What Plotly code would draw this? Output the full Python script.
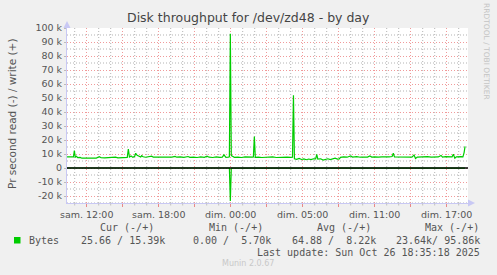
import plotly.graph_objects as go

# ---------------- data ----------------
# time in hours since Saturday 00:00 (uniform clock; DST shift handled in tick text)
write_hours = [10.36, 10.5, 10.65, 10.8, 10.9, 10.97, 11.05, 11.15, 11.25, 11.45, 11.6, 11.9, 12.2, 12.5, 12.8,
               13.05, 13.2, 13.5, 13.8, 14.1, 14.4, 14.6, 14.9, 15.2, 15.38, 15.47, 15.56, 15.7, 15.85, 16.0,
               16.08, 16.2, 16.35, 16.5, 16.58, 16.7, 16.9, 17.2, 17.42, 17.55, 17.9, 18.2, 18.5, 18.8, 19.1,
               19.36, 19.5, 19.8, 20.1, 20.44, 20.6, 20.9, 21.2, 21.5, 21.8, 22.03, 22.2, 22.5, 22.8, 23.1,
               23.3, 23.44, 23.6, 23.8, 23.89, 23.97, 24.05, 24.15, 24.3, 24.6, 24.9, 25.2, 25.5, 25.8, 25.89,
               25.97, 26.05, 26.3, 26.6, 26.9, 27.2, 27.5, 27.8, 28.1, 28.4, 28.7, 29.0, 29.15, 29.23, 29.31,
               29.5, 29.7, 29.9, 30.1, 30.3, 30.5, 30.7, 30.9, 31.08, 31.17, 31.26, 31.5, 31.7, 31.9, 32.1,
               32.3, 32.5, 32.7, 32.9, 33.05, 33.15, 33.4, 33.7, 34.0, 34.15, 34.5, 34.8, 35.1, 35.4, 35.6,
               35.75, 36.0, 36.3, 36.6, 36.9, 37.2, 37.45, 37.55, 37.65, 37.9, 38.2, 38.5, 38.8, 39.1, 39.28,
               39.4, 39.55, 39.8, 40.1, 40.4, 40.7, 41.0, 41.3, 41.53, 41.65, 41.9, 42.2, 42.45, 42.55, 42.68,
               42.8, 43.0, 43.2, 43.35, 43.45, 43.53]
write_k = [7.9, 8.0, 7.8, 8.1, 7.9, 12.4, 7.8, 8.3, 7.4, 7.6, 7.0, 7.1, 7.0, 7.2, 7.1,
           8.1, 7.3, 7.2, 7.5, 7.3, 7.8, 7.2, 7.4, 7.5, 7.6, 13.6, 7.8, 8.6, 7.6, 8.4,
           10.5, 9.0, 8.2, 7.8, 8.8, 8.0, 7.7, 7.9, 8.4, 7.7, 7.8, 7.6, 7.9, 7.6, 7.8,
           8.3, 7.7, 7.9, 7.6, 8.2, 7.6, 7.8, 7.5, 7.9, 7.6, 8.4, 7.7, 7.5, 7.9, 7.6,
           7.8, 9.4, 7.6, 7.8, 8.0, 95.86, 8.9, 8.4, 7.6, 7.8, 7.5, 7.9, 7.6, 7.7, 7.8,
           22.4, 7.6, 7.8, 7.5, 7.8, 7.6, 7.9, 7.5, 7.7, 7.6, 7.8, 7.6, 7.7, 52.0, 6.6,
           6.2, 6.8, 6.1, 6.5, 5.9, 6.4, 6.0, 6.6, 6.5, 9.8, 6.3, 6.6, 5.7, 6.2, 6.6,
           6.0, 6.4, 7.0, 6.3, 6.5, 7.6, 8.0, 7.7, 8.6, 7.8, 8.1, 7.7, 8.0, 7.8, 8.6,
           7.8, 8.0, 7.7, 8.0, 7.8, 7.9, 8.2, 10.5, 7.9, 7.8, 8.0, 7.7, 7.9, 7.8, 9.3,
           6.8, 7.8, 8.0, 7.8, 8.1, 7.8, 8.0, 7.9, 9.0, 7.8, 8.1, 7.8, 8.0, 9.8, 7.0,
           8.0, 7.8, 8.1, 8.0, 11.0, 15.39]
read_hours = [10.36, 23.89, 23.97, 24.05, 43.53]
read_k = [0.0, 0.0, 23.64, 0.0, 0.026]

x_tickvals = [12, 15, 18, 21, 24, 27, 30, 33, 36, 39, 42]
x_ticktext = ["sam. 12:00", "", "sam. 18:00", "", "dim. 00:00", "", "dim. 05:00", "", "dim. 11:00", "", "dim. 17:00"]
y_tickvals = [100000, 90000, 80000, 70000, 60000, 50000, 40000, 30000, 20000, 10000, 0, -10000, -20000]
y_ticktext = ["100 k", "90 k", "80 k", "70 k", "60 k", "50 k", "40 k", "30 k", "20 k", "10 k", "0", "-10 k", "-20 k"]

legend_headers = ["Cur (-/+)", "Min (-/+)", "Avg (-/+)", "Max (-/+)"]
legend_values = ["25.66 / 15.39k", "0.00 /  5.70k", "64.88 /  8.22k", "23.64k/ 95.86k"]

# minor grid positions (every hour / every 5k, skipping majors)
x_minor = [h for h in range(11, 44) if h % 3 != 0]
y_minor = [v * 5000 for v in range(-5, 20, 2)]

# ---------------- layout helpers ----------------
W, H = 497, 275
L, R, T, B = 67, 468, 28, 203
PW, PH = R - L, B - T
XR = [10.358, 43.775]
YR = [-25000, 100000]


def px(x):
    return (x - L) / PW


def py(y):
    return (B - y) / PH


GREEN = "#00CC00"
TXT = "#555555"
MAJOR = "rgba(235,120,120,0.75)"
MINOR = "rgba(160,160,160,0.8)"
DASH = "1px,2px"

fig = go.Figure()
fig.add_trace(go.Scatter(x=read_hours, y=[-v * 1000 for v in read_k], mode="lines",
                         line=dict(color=GREEN, width=1.2), hoverinfo="skip", showlegend=False))
fig.add_trace(go.Scatter(x=write_hours, y=[v * 1000 for v in write_k], mode="lines",
                         line=dict(color=GREEN, width=1.2), hoverinfo="skip", showlegend=False))

shapes = []
# minor grid (below traces)
for h in x_minor:
    shapes.append(dict(type="line", xref="x", yref="paper", x0=h, x1=h, y0=0, y1=1, layer="below",
                       line=dict(color=MINOR, width=1, dash=DASH)))
    shapes.append(dict(type="line", xref="x", yref="paper", x0=h, x1=h, y0=py(203.5), y1=py(205.5),
                       layer="above", line=dict(color="#c0c0c0", width=1)))
for v in y_minor:
    shapes.append(dict(type="line", xref="paper", yref="y", x0=0, x1=1, y0=v, y1=v, layer="below",
                       line=dict(color=MINOR, width=1, dash=DASH)))
shapes += [
    # zero line
    dict(type="line", xref="paper", yref="y", x0=0, x1=1, y0=0, y1=0,
         line=dict(color="black", width=1.3), layer="above"),
    # left axis arrow
    dict(type="path", xref="paper", yref="paper",
         path=f"M {px(63.5)},{py(28)} L {px(70.5)},{py(28)} L {px(67)},{py(21)} Z",
         fillcolor="#c8c8f4", line=dict(width=0)),
    # bottom axis arrow
    dict(type="path", xref="paper", yref="paper",
         path=f"M {px(468)},{py(199.5)} L {px(468)},{py(206.5)} L {px(475)},{py(203)} Z",
         fillcolor="#c8c8f4", line=dict(width=0)),
]

ann = []
ann.append(dict(text="Disk throughput for /dev/zd48 - by day", x=px(248), y=py(18), xref="paper", yref="paper",
                showarrow=False, xanchor="center", yanchor="middle",
                font=dict(family="DejaVu Sans", size=12.5, color="#444444")))
ann.append(dict(text="Pr second read (-) / write (+)", x=px(12), y=py(114), xref="paper", yref="paper",
                showarrow=False, textangle=-90, xanchor="center", yanchor="middle",
                font=dict(family="DejaVu Sans", size=10.5, color=TXT)))
ann.append(dict(text="RRDTOOL / TOBI OETIKER", x=px(487), y=py(51), xref="paper", yref="paper",
                showarrow=False, textangle=90, xanchor="center", yanchor="middle",
                font=dict(family="DejaVu Sans", size=7.5, color="#c4c4c4")))
mono = dict(family="DejaVu Sans Mono", size=10, color=TXT)
header_left = [98, 206.7, 315, 422.7]
for htxt, hx in zip(legend_headers, header_left):
    ann.append(dict(text=htxt.replace(" ", "&nbsp;"), x=px(hx), y=py(227.5), xref="paper", yref="paper",
                    showarrow=False, xanchor="left", yanchor="middle", font=mono))
value_right = [167, 272.7, 377.7, 482]
for vtxt, vx in zip(legend_values, value_right):
    ann.append(dict(text=vtxt.replace(" ", "&nbsp;"), x=px(vx), y=py(240), xref="paper", yref="paper",
                    showarrow=False, xanchor="right", yanchor="middle", font=mono))
ann.append(dict(text="Bytes", x=px(26.7), y=py(240), xref="paper", yref="paper",
                showarrow=False, xanchor="left", yanchor="middle", font=mono))
ann.append(dict(text="Last&nbsp;update:&nbsp;Sun&nbsp;Oct&nbsp;26&nbsp;18:35:18&nbsp;2025", x=px(482), y=py(252),
                xref="paper", yref="paper", showarrow=False, xanchor="right", yanchor="middle", font=mono))
ann.append(dict(text="Munin 2.0.67", x=px(248), y=py(263.5), xref="paper", yref="paper",
                showarrow=False, xanchor="center", yanchor="middle",
                font=dict(family="DejaVu Sans", size=8, color="#c8c8c8")))
shapes.append(dict(type="rect", xref="paper", yref="paper", x0=px(14), x1=px(20.5), y0=py(243.5), y1=py(237),
                   fillcolor=GREEN, line=dict(width=0)))

fig.update_layout(
    width=W, height=H,
    margin=dict(l=L, r=W - R, t=T, b=H - B, pad=0),
    paper_bgcolor="#F0F0F0", plot_bgcolor="white",
    showlegend=False,
    shapes=shapes, annotations=ann,
    xaxis=dict(range=XR, tickmode="array", tickvals=x_tickvals, ticktext=x_ticktext,
               showgrid=True, gridcolor=MAJOR, griddash=DASH, gridwidth=1,
               zeroline=False, showline=True, linecolor="#c8c8f4", linewidth=1,
               ticks="outside", ticklen=3, tickcolor="rgba(230,110,110,0.8)", tickwidth=1,
               tickfont=dict(family="DejaVu Sans", size=9.5, color=TXT), tickangle=0),
    yaxis=dict(range=YR, tickmode="array", tickvals=y_tickvals, ticktext=y_ticktext,
               showgrid=True, gridcolor=MAJOR, griddash=DASH, gridwidth=1,
               zeroline=False, showline=True, linecolor="#c8c8f4", linewidth=1,
               ticks="outside", ticklen=2, tickcolor="#bbbbbb",
               tickfont=dict(family="DejaVu Sans", size=9.5, color=TXT)),
)

fig.write_html("out.html")
